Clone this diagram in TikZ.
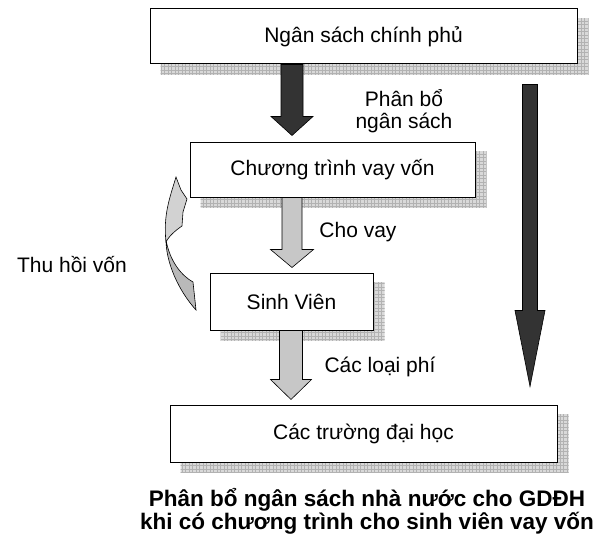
\documentclass[tikz,border=0pt]{standalone}
\usepackage{fontspec}
\setmainfont{Liberation Sans}
\usetikzlibrary{calc,backgrounds}

% block arrow: style, start, tip, shaft half width, head half width, head length
\newcommand{\blockarrow}[6]{%
  \filldraw[#1] ($(#2)+(-#4,0)$) -- ($(#3)+(-#4,-#6)$) -- ($(#3)+(-#5,-#6)$) -- (#3)
    -- ($(#3)+(#5,-#6)$) -- ($(#3)+(#4,-#6)$) -- ($(#2)+(#4,0)$) -- cycle;}

\tikzset{
  box/.style={draw, line width=1pt, fill=white, inner sep=0pt, font=\fontsize{21}{24}\selectfont},
  lbl/.style={font=\fontsize{21}{22}\selectfont, align=center},
  caption/.style={font=\fontsize{22.5}{22}\selectfont\bfseries, align=center},
  darkarrow/.style={fill=black!80, draw=black, line width=0.6pt},
  lightarrow/.style={fill=black!22, draw=black, line width=0.6pt}
}

\begin{document}
\begin{tikzpicture}[x=1pt,y=-1pt]
\useasboundingbox (0,0) rectangle (597,535);

% boxes
\node[box, minimum width=427pt, minimum height=55pt] (top) at (363.5,36.5) {Ngân sách chính phủ};
\node[box, minimum width=285pt, minimum height=55pt] (prog) at (332.5,169.5) {Chương trình vay vốn};
\node[box, minimum width=163pt, minimum height=57pt] (sv) at (291.5,301.5) {Sinh Viên};
\node[box, minimum width=387pt, minimum height=57pt] (uni) at (363.5,433.5) {Các trường đại học};

% shadows
\begin{scope}[on background layer]
\foreach \b in {top,prog,sv,uni}{
  \begin{scope}
    \clip ($(\b.north west)+(11,10)$) rectangle ($(\b.south east)+(11,10)$);
    \fill[gray!30] (0,0) rectangle (597,535);
    \draw[gray!60, line width=0.4pt, step=3.5pt] (0,535) grid (597,0);
  \end{scope}
}
\end{scope}

% arrows
\coordinate (a1s) at (292,0 |- top.south);
\coordinate (a1t) at ($(292,0 |- prog.north)+(0,-6)$);
\blockarrow{darkarrow}{a1s}{a1t}{11}{21}{19}
\coordinate (a2s) at (292,0 |- prog.south);
\coordinate (a2t) at ($(292,0 |- sv.north)+(0,-5)$);
\blockarrow{lightarrow}{a2s}{a2t}{10}{21.5}{18}
\coordinate (a3s) at (291,0 |- sv.south);
\coordinate (a3t) at ($(291,0 |- uni.north)+(0,-5)$);
\blockarrow{lightarrow}{a3s}{a3t}{11.5}{20.5}{20}
\coordinate (a4s) at ($(530,0 |- top.south)+(0,20)$);
\coordinate (a4t) at ($(530,0 |- uni.north)+(0,-18)$);
\blockarrow{darkarrow}{a4s}{a4t}{7.5}{15}{76}

% curved arrow back to the programme
\filldraw[fill=gray!55, draw=black, line width=0.6pt] (166,240) .. controls (166,262) and (178,290) .. (196,310)
  -- (193,282) .. controls (182,276) and (170,262) .. (166,240);
\filldraw[fill=gray!35, draw=black, line width=0.6pt] (176,177) -- (181,190) -- (187,199) -- (183,212) -- (182,226)
  .. controls (176,230) and (169,236) .. (166,242) .. controls (163,215) and (170,197) .. (176,177) -- cycle;

% labels
\node[lbl] (alloc) at (404,111) {Phân bổ\\ngân sách};
\node[lbl] (lend) at (358,232) {Cho vay};
\node[lbl] (fees) at (380,367) {Các loại phí};
\node[lbl] (recov) at (72,265) {Thu hồi vốn};
\node[caption] (cap) at (367,511) {Phân bổ ngân sách nhà nước cho GDĐH\\khi có chương trình cho sinh viên vay vốn};
\end{tikzpicture}
\end{document}
